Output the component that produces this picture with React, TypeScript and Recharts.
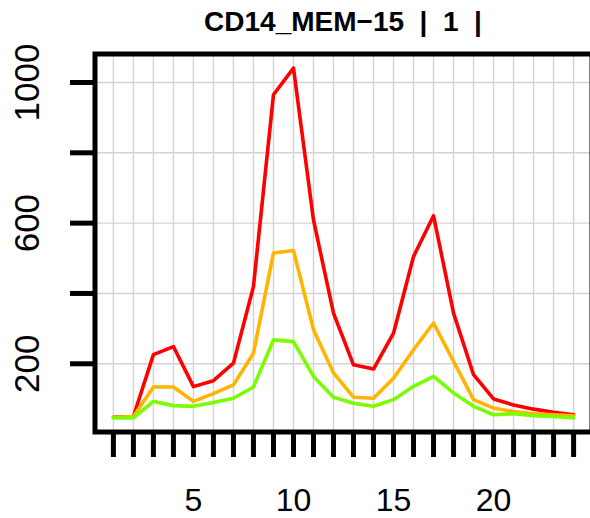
import React from "react";
import { LineChart, Line, XAxis, YAxis, CartesianGrid, ReferenceArea } from "recharts";

const positions = [1, 2, 3, 4, 5, 6, 7, 8, 9, 10, 11, 12, 13, 14, 15, 16, 17, 18, 19, 20, 21, 22, 23, 24];
const redSeries = [48, 50, 226, 249, 135, 152, 202, 420, 965, 1041, 609, 344, 197, 185, 287, 505, 621, 344, 169, 100, 83, 71, 62, 55];
const orangeSeries = [48, 50, 134, 134, 93, 115, 140, 230, 515, 522, 297, 174, 105, 102, 159, 240, 316, 207, 98, 74, 64, 58, 55, 52];
const greenSeries = [46, 46, 93, 81, 79, 90, 102, 134, 268, 263, 164, 105, 88, 79, 98, 136, 164, 117, 79, 55, 58, 52, 50, 46];

const xTicks = [1, 2, 3, 4, 5, 6, 7, 8, 9, 10, 11, 12, 13, 14, 15, 16, 17, 18, 19, 20, 21, 22, 23, 24];
const xTickLabels = [5, 10, 15, 20];
const yTicks = [200, 400, 600, 800, 1000];
const yTickLabels = [200, 600, 1000];

const title = "CD14_MEM\u221215  |  1  |";
const xDomain: [number, number] = [0.08, 24.92];
const yDomain: [number, number] = [6, 1081];

const rows = positions.map((p, i) => ({
  pos: p,
  red: redSeries[i],
  orange: orangeSeries[i],
  green: greenSeries[i],
}));

const FONT = "'Liberation Sans', Arial, sans-serif";

const XTick = (props: any) => {
  const { x, y, payload } = props;
  if (!xTickLabels.includes(payload.value)) return null;
  return (
    <text x={x} y={y + 43} textAnchor="middle" dominantBaseline="central" fontSize={32} fontFamily={FONT} fill="#000">
      {String(payload.value)}
    </text>
  );
};

const YTick = (props: any) => {
  const { x, y, payload } = props;
  if (!yTickLabels.includes(payload.value)) return null;
  const cx = x - 43;
  return (
    <text
      x={cx}
      y={y}
      textAnchor="middle"
      dominantBaseline="central"
      fontSize={35}
      fontFamily={FONT}
      fill="#000"
      transform={`rotate(-90, ${cx}, ${y})`}
    >
      {String(payload.value)}
    </text>
  );
};

export default function App() {
  return (
    <div style={{ position: "absolute", left: 0, top: 0, width: 590, height: 518, overflow: "hidden", background: "#fff" }}>
      <LineChart width={592} height={518} data={rows} margin={{ top: 54, right: 0, bottom: 0, left: 0 }}>
        <CartesianGrid stroke="#d3d3d3" strokeWidth={1.4} />
        <XAxis
          dataKey="pos"
          type="number"
          domain={xDomain}
          ticks={xTicks}
          interval={0}
          height={86}
          axisLine={false}
          tickLine={{ stroke: "#000", strokeWidth: 5 }}
          tickSize={25}
          tickMargin={0}
          tick={<XTick />}
          allowDataOverflow
        />
        <YAxis
          type="number"
          domain={yDomain}
          ticks={yTicks}
          interval={0}
          width={95}
          axisLine={false}
          tickLine={{ stroke: "#000", strokeWidth: 5 }}
          tickSize={25}
          tickMargin={0}
          tick={<YTick />}
          allowDataOverflow
        />
        <Line dataKey="red" stroke="#ff0000" strokeWidth={3.6} dot={false} isAnimationActive={false} strokeLinejoin="round" strokeLinecap="round" />
        <Line dataKey="orange" stroke="#ffb400" strokeWidth={3.6} dot={false} isAnimationActive={false} strokeLinejoin="round" strokeLinecap="round" />
        <Line dataKey="green" stroke="#7cfc00" strokeWidth={3.6} dot={false} isAnimationActive={false} strokeLinejoin="round" strokeLinecap="round" />
        <ReferenceArea x1={xDomain[0]} x2={xDomain[1]} y1={yDomain[0]} y2={yDomain[1]} fill="none" fillOpacity={0} stroke="#000" strokeWidth={5} ifOverflow="visible" />
      </LineChart>
      <svg width={590} height={50} style={{ position: "absolute", left: 0, top: 0, pointerEvents: "none" }}>
        <text x={343} y={31} textAnchor="middle" fontSize={28} fontWeight="bold" fontFamily={FONT} fill="#000" style={{ whiteSpace: "pre" }}>
          {title}
        </text>
      </svg>
    </div>
  );
}
